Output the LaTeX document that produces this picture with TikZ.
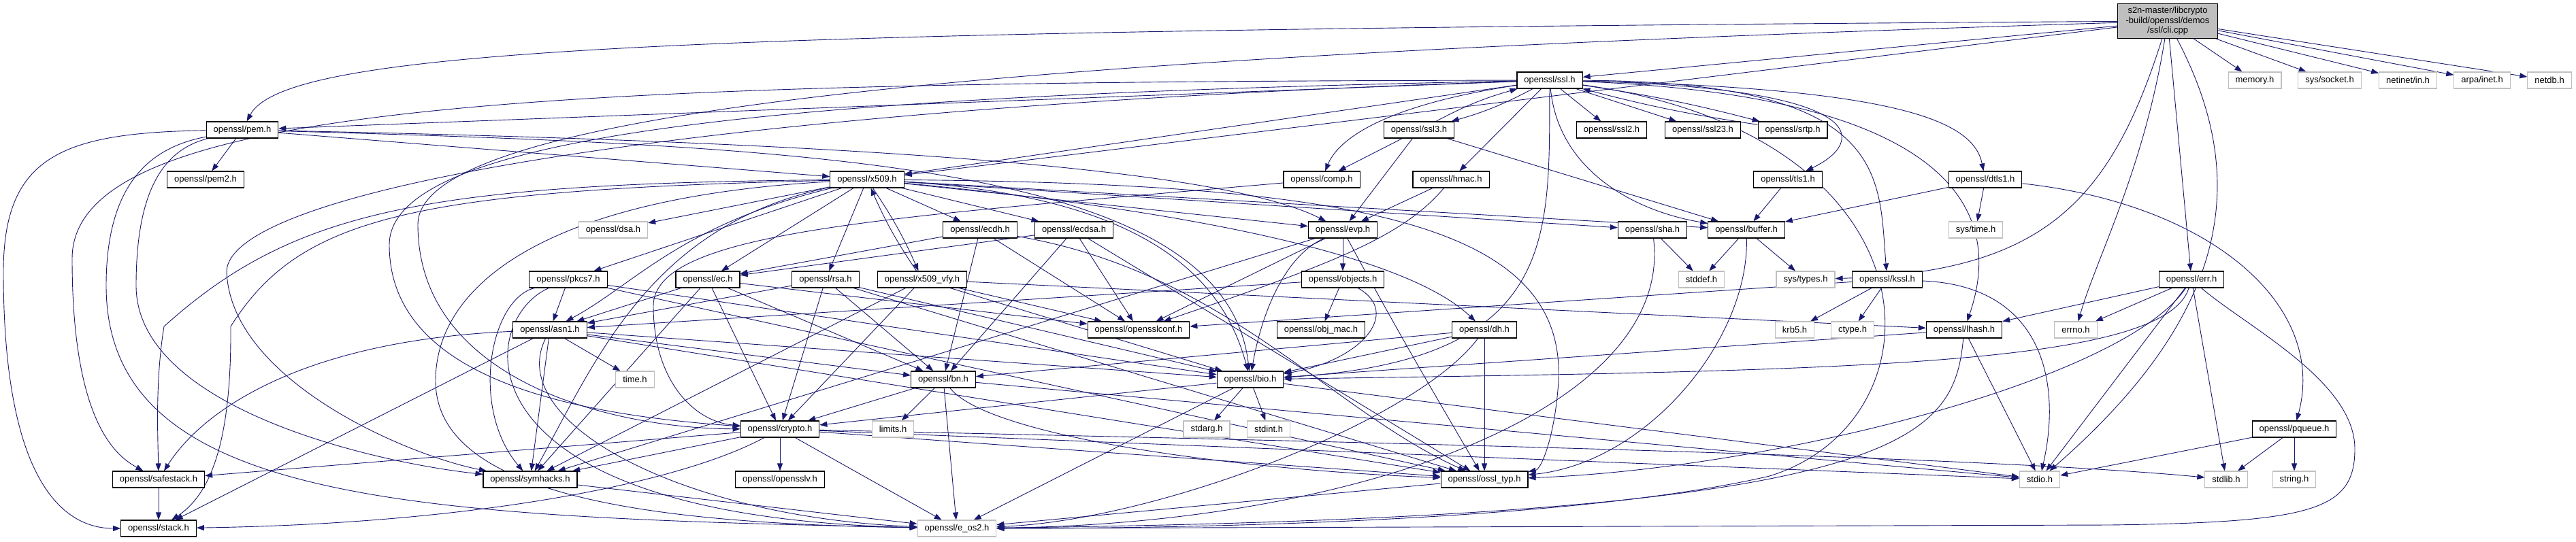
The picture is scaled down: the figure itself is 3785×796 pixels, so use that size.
\documentclass[tikz,border=0pt]{standalone}
\usepackage{fontspec}
\setmainfont{Liberation Sans}
\usetikzlibrary{arrows.meta}
\definecolor{edgec}{HTML}{191970}
\definecolor{extc}{HTML}{BFBFBF}
\pgfdeclarelayer{bg}
\pgfsetlayers{bg,main}
\begin{document}
\begin{tikzpicture}[x=1pt,y=-1pt,
  nd/.style={draw=black,line width=1.1pt,fill=white,inner xsep=10.5pt,inner ysep=0pt,minimum height=24pt,font=\fontsize{13}{15}\selectfont},
  ext/.style={nd,draw=extc},
  e/.style={draw=edgec,line width=0.9pt,-{Triangle[length=11pt,width=8pt]}}]
\useasboundingbox (0,0) rectangle (3785,796);

% ---------- nodes ----------
\node[nd,fill=extc,minimum width=147pt,minimum height=51pt,inner sep=1pt,align=center,font=\fontsize{13}{14.5}\selectfont] (cli) at (3185,31) {s2n-master/libcrypto\\-build/openssl/demos\\/ssl/cli.cpp};
\node[ext] (memory) at (3313,118) {memory.h};
\node[ext] (syssocket) at (3423,118) {sys/socket.h};
\node[ext] (netinet) at (3538,118) {netinet/in.h};
\node[ext] (arpa) at (3647,118) {arpa/inet.h};
\node[ext] (netdb) at (3746,118) {netdb.h};
\node[nd] (ssl) at (2277,118) {openssl/ssl.h};
\node[nd] (pem) at (356,191) {openssl/pem.h};
\node[nd] (ssl3) at (2085,191) {openssl/ssl3.h};
\node[nd] (ssl2) at (2368,191) {openssl/ssl2.h};
\node[nd] (ssl23) at (2502,191) {openssl/ssl23.h};
\node[nd] (srtp) at (2634,191) {openssl/srtp.h};
\node[nd] (pem2) at (302,264) {openssl/pem2.h};
\node[nd] (x509) at (1274,264) {openssl/x509.h};
\node[nd] (comp) at (1942,264) {openssl/comp.h};
\node[nd] (hmac) at (2132,264) {openssl/hmac.h};
\node[nd] (tls1) at (2627,264) {openssl/tls1.h};
\node[nd] (dtls1) at (2917,264) {openssl/dtls1.h};
\node[ext] (dsa) at (901,338) {openssl/dsa.h};
\node[nd] (ecdh) at (1440,338) {openssl/ecdh.h};
\node[nd] (ecdsa) at (1578,338) {openssl/ecdsa.h};
\node[nd] (evp) at (1973,338) {openssl/evp.h};
\node[nd] (sha) at (2428,338) {openssl/sha.h};
\node[nd] (buffer) at (2566,338) {openssl/buffer.h};
\node[ext] (systime) at (2903,338) {sys/time.h};
\node[nd] (pkcs7) at (835,411) {openssl/pkcs7.h};
\node[nd] (ec) at (1040,411) {openssl/ec.h};
\node[nd] (rsa) at (1213,411) {openssl/rsa.h};
\node[nd] (x509vfy) at (1355,411) {openssl/x509\_vfy.h};
\node[nd] (objects) at (1973,411) {openssl/objects.h};
\node[ext] (stddef) at (2500,411) {stddef.h};
\node[ext] (systypes) at (2653,411) {sys/types.h};
\node[nd] (kssl) at (2773,411) {openssl/kssl.h};
\node[nd] (err) at (3220,411) {openssl/err.h};
\node[nd] (asn1) at (808,485) {openssl/asn1.h};
\node[nd] (opensslconf) at (1673,485) {openssl/opensslconf.h};
\node[nd] (objmac) at (1941,485) {openssl/obj\_mac.h};
\node[nd] (dh) at (2181,485) {openssl/dh.h};
\node[ext] (krb5) at (2637,485) {krb5.h};
\node[ext] (ctype) at (2722,485) {ctype.h};
\node[nd] (lhash) at (2886,485) {openssl/lhash.h};
\node[ext] (errno) at (3050,485) {errno.h};
\node[ext] (timeh) at (933,558) {time.h};
\node[nd] (bn) at (1386,558) {openssl/bn.h};
\node[nd] (bio) at (1837,558) {openssl/bio.h};
\node[nd] (crypto) at (1146,631) {openssl/crypto.h};
\node[ext] (limits) at (1312,631) {limits.h};
\node[ext] (stdarg) at (1773,631) {stdarg.h};
\node[ext] (stdint) at (1864,631) {stdint.h};
\node[nd] (pqueue) at (3371,631) {openssl/pqueue.h};
\node[nd] (safestack) at (233,705) {openssl/safestack.h};
\node[nd] (symhacks) at (779,705) {openssl/symhacks.h};
\node[nd] (opensslv) at (1146,705) {openssl/opensslv.h};
\node[nd] (ossltyp) at (2181,705) {openssl/ossl\_typ.h};
\node[ext] (stdio) at (2997,705) {stdio.h};
\node[ext] (stdlib) at (3271,705) {stdlib.h};
\node[ext] (string) at (3371,705) {string.h};
\node[nd] (stack) at (233,777) {openssl/stack.h};
\node[ext] (eos2) at (1406,777) {openssl/e\_os2.h};

% ---------- edges ----------
\begin{pgfonlayer}{bg}
\fill[white] (0,0) rectangle (3785,796);
% cli.cpp
\draw[e] (cli) -- (ssl);
\draw[e] (cli) -- (x509);
\draw[e] (cli) .. controls (1000,45) and (420,70) .. (pem);
\draw[e] (cli) .. controls (1600,80) and (614,150) .. (614,330) .. controls (614,560) and (900,630) .. (crypto);
\draw[e] (cli) -- (err);
\draw[e] (cli) .. controls (3300,250) and (3290,450) .. (stdio);
\draw[e] (cli) .. controls (3150,250) and (3080,380) .. (errno);
\draw[e] (cli) .. controls (3100,300) and (3000,400) .. (systypes);
\draw[e] (cli) -- (memory);
\draw[e] (cli) -- (syssocket);
\draw[e] (cli) -- (netinet);
\draw[e] (cli) -- (arpa);
\draw[e] (cli) -- (netdb);
% ssl.h
\draw[e] (ssl) -- (pem);
\draw[e] (ssl) -- (x509);
\draw[e] (ssl) .. controls (1200,140) and (572,190) .. (572,360) .. controls (572,560) and (850,610) .. (crypto);
\draw[e] (ssl) .. controls (800,120) and (106,150) .. (106,380) .. controls (106,620) and (170,670) .. (safestack);
\draw[e] (ssl) .. controls (1000,160) and (333,280) .. (333,400) .. controls (340,560) and (600,670) .. (symhacks);
\draw[e] (ssl) .. controls (2000,160) and (1960,220) .. (comp);
\draw[e] (ssl) to[bend left=6] (ssl3);
\draw[e] (ssl3) to[bend left=6] (ssl);
\draw[e] (ssl) -- (hmac);
\draw[e] (ssl) -- (ssl2);
\draw[e] (ssl) -- (ssl23);
\draw[e] (ssl) to[bend left=3] (srtp);
\draw[e] (srtp) to[bend left=3] (ssl);
\draw[e] (ssl) .. controls (2760,130) and (2740,210) .. (tls1);
\draw[e] (ssl) .. controls (2800,130) and (2900,180) .. (dtls1);
\draw[e] (ssl) .. controls (2780,120) and (2760,260) .. (kssl);
\draw[e] (ssl) .. controls (2850,140) and (2950,300) .. (lhash);
\draw[e] (ssl) .. controls (2290,250) and (2400,310) .. (buffer);
\draw[e] (ssl) .. controls (2276,350) and (2290,530) .. (bio);
\draw[e] (ssl) .. controls (2860,200) and (2860,620) .. (2600,700) .. controls (2300,770) and (1700,777) .. (eos2);
% ssl3.h, srtp, tls1, dtls1
\draw[e] (ssl3) -- (comp);
\draw[e] (ssl3) -- (evp);
\draw[e] (ssl3) -- (buffer);
\draw[e] (tls1) -- (buffer);
\draw[e] (dtls1) -- (buffer);
\draw[e] (dtls1) -- (systime);
\draw[e] (dtls1) .. controls (3250,300) and (3420,450) .. (pqueue);
% pem.h
\draw[e] (pem) -- (pem2);
\draw[e] (pem) -- (x509);
\draw[e] (pem) .. controls (1300,210) and (1800,250) .. (evp);
\draw[e] (pem) .. controls (1200,215) and (1800,240) .. (bio);
\draw[e] (pem) .. controls (90,195) and (5,230) .. (5,400) .. controls (5,720) and (100,777) .. (stack);
\draw[e] (pem) .. controls (230,215) and (156,260) .. (156,420) .. controls (156,740) and (600,760) .. (eos2);
\draw[e] (pem) .. controls (240,220) and (200,280) .. (200,420) .. controls (200,600) and (550,680) .. (symhacks);
% x509.h
\draw[e] (x509) .. controls (1000,330) and (930,420) .. (asn1);
\draw[e] (x509) -- (pkcs7);
\draw[e] (x509) -- (ec);
\draw[e] (x509) -- (rsa);
\draw[e] (x509) to[bend left=5] (x509vfy);
\draw[e] (x509vfy) to[bend left=5] (x509);
\draw[e] (x509) -- (dsa);
\draw[e] (x509) -- (ecdh);
\draw[e] (x509) -- (ecdsa);
\draw[e] (x509) -- (evp);
\draw[e] (x509) -- (sha);
\draw[e] (x509) -- (buffer);
\draw[e] (x509) .. controls (1650,300) and (2050,360) .. (dh);
\draw[e] (x509) .. controls (1700,290) and (1800,420) .. (bio);
\draw[e] (x509) .. controls (2000,270) and (2300,330) .. (2290,560) .. controls (2285,640) and (2265,690) .. (ossltyp);
\draw[e] (x509) .. controls (800,290) and (640,420) .. (640,560) .. controls (640,740) and (1000,770) .. (eos2);
\draw[e] (x509) .. controls (960,330) and (880,520) .. (symhacks);
\draw[e] (x509) .. controls (600,280) and (440,320) .. (339,480) .. controls (340,620) and (320,720) .. (stack);
\draw[e] (x509) .. controls (620,270) and (430,310) .. (241,480) .. controls (228,560) and (232,640) .. (safestack);
% x509_vfy.h
\draw[e] (x509vfy) -- (opensslconf);
\draw[e] (x509vfy) -- (lhash);
\draw[e] (x509vfy) -- (bio);
\draw[e] (x509vfy) -- (crypto);
\draw[e] (x509vfy) -- (symhacks);
% pkcs7.h
\draw[e] (pkcs7) -- (asn1);
\draw[e] (pkcs7) -- (bio);
\draw[e] (pkcs7) -- (ossltyp);
\draw[e] (pkcs7) .. controls (720,440) and (690,600) .. (symhacks);
\draw[e] (pkcs7) .. controls (700,470) and (660,760) .. (eos2);
% ec.h
\draw[e] (ec) -- (asn1);
\draw[e] (ec) -- (opensslconf);
\draw[e] (ec) -- (symhacks);
\draw[e] (ec) -- (bn);
\draw[e] (ec) -- (crypto);
% rsa.h
\draw[e] (rsa) -- (asn1);
\draw[e] (rsa) -- (bio);
\draw[e] (rsa) -- (crypto);
\draw[e] (rsa) -- (ossltyp);
\draw[e] (rsa) -- (bn);
% ecdh.h, ecdsa.h
\draw[e] (ecdh) -- (ec);
\draw[e] (ecdh) -- (opensslconf);
\draw[e] (ecdh) -- (bn);
\draw[e] (ecdh) .. controls (1800,400) and (1950,600) .. (ossltyp);
\draw[e] (ecdsa) -- (ec);
\draw[e] (ecdsa) -- (opensslconf);
\draw[e] (ecdsa) -- (bn);
\draw[e] (ecdsa) -- (ossltyp);
% evp.h
\draw[e] (evp) -- (objects);
\draw[e] (evp) -- (opensslconf);
\draw[e] (evp) .. controls (1880,380) and (1850,480) .. (bio);
\draw[e] (evp) -- (symhacks);
\draw[e] (evp) .. controls (2060,500) and (2120,600) .. (ossltyp);
% objects.h
\draw[e] (objects) -- (objmac);
\draw[e] (objects) .. controls (2060,460) and (2000,530) .. (bio);
\draw[e] (objects) -- (asn1);
% dh.h
\draw[e] (dh) -- (bn);
\draw[e] (dh) -- (bio);
\draw[e] (dh) -- (ossltyp);
\draw[e] (dh) .. controls (2080,620) and (1700,765) .. (eos2);
% hmac.h, comp.h
\draw[e] (hmac) -- (evp);
\draw[e] (hmac) .. controls (2060,350) and (1950,390) .. (opensslconf);
\draw[e] (comp) .. controls (1300,320) and (960,340) .. (960,450) .. controls (960,560) and (1020,620) .. (crypto);
% kssl.h
\draw[e] (kssl) -- (krb5);
\draw[e] (kssl) -- (ctype);
\draw[e] (kssl) .. controls (3000,420) and (3030,560) .. (stdio);
\draw[e] (kssl) -- (opensslconf);
% err.h
\draw[e] (err) -- (lhash);
\draw[e] (err) -- (errno);
\draw[e] (err) -- (stdio);
\draw[e] (err) -- (stdlib);
\draw[e] (err) .. controls (3180,540) and (2700,545) .. (bio);
\draw[e] (err) .. controls (3120,560) and (2600,690) .. (ossltyp);
\draw[e] (err) .. controls (3300,480) and (3460,560) .. (3460,660) .. controls (3460,750) and (3400,768) .. (3100,772) -- (eos2);
% lhash.h
\draw[e] (lhash) -- (bio);
\draw[e] (lhash) -- (stdio);
\draw[e] (lhash) .. controls (2870,650) and (2800,760) .. (eos2);
% pqueue.h
\draw[e] (pqueue) -- (stdio);
\draw[e] (pqueue) -- (stdlib);
\draw[e] (pqueue) -- (string);
% buffer.h, sha.h
\draw[e] (buffer) -- (stddef);
\draw[e] (buffer) -- (systypes);
\draw[e] (buffer) .. controls (2570,500) and (2420,680) .. (ossltyp);
\draw[e] (sha) -- (stddef);
\draw[e] (sha) .. controls (2460,600) and (2000,770) .. (eos2);
% asn1.h
\draw[e] (asn1) -- (timeh);
\draw[e] (asn1) -- (bio);
\draw[e] (asn1) -- (bn);
\draw[e] (asn1) -- (ossltyp);
\draw[e] (asn1) -- (symhacks);
\draw[e] (asn1) .. controls (450,500) and (300,600) .. (safestack);
\draw[e] (asn1) -- (stack);
\draw[e] (asn1) .. controls (740,620) and (1000,760) .. (eos2);
% bio.h
\draw[e] (bio) -- (crypto);
\draw[e] (bio) -- (stdarg);
\draw[e] (bio) -- (stdint);
\draw[e] (bio) -- (stdio);
\draw[e] (bio) -- (eos2);
% bn.h
\draw[e] (bn) -- (crypto);
\draw[e] (bn) -- (limits);
\draw[e] (bn) -- (eos2);
\draw[e] (bn) .. controls (1450,640) and (1800,690) .. (ossltyp);
\draw[e] (bn) -- (stdio);
% crypto.h
\draw[e] (crypto) -- (opensslv);
\draw[e] (crypto) -- (ossltyp);
\draw[e] (crypto) -- (stdio);
\draw[e] (crypto) .. controls (2000,650) and (2900,670) .. (stdlib);
\draw[e] (crypto) -- (eos2);
\draw[e] (crypto) -- (symhacks);
\draw[e] (crypto) -- (safestack);
\draw[e] (crypto) .. controls (1000,710) and (700,770) .. (stack);
% leaves
\draw[e] (safestack) -- (stack);
\draw[e] (symhacks) -- (eos2);
\draw[e] (ossltyp) -- (eos2);
\end{pgfonlayer}
\end{tikzpicture}
\end{document}
